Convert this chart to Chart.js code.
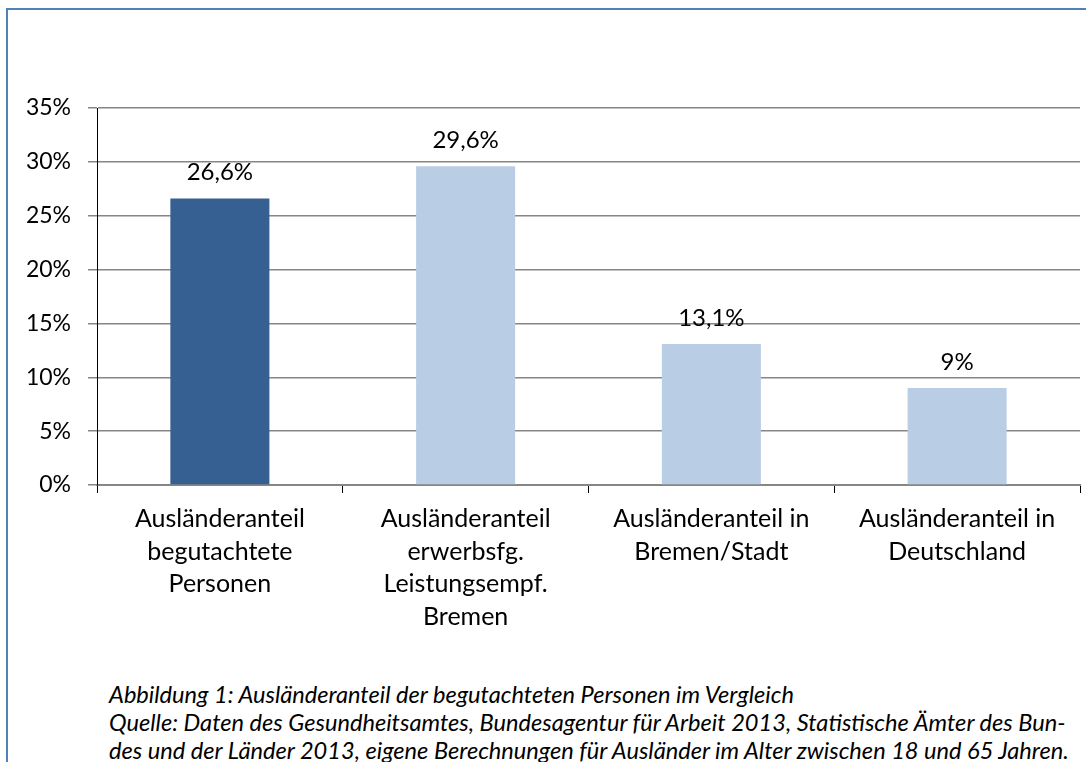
<!DOCTYPE html>
<html lang="de">
<head>
  <meta charset="UTF-8" />
  <title>Ausländeranteil</title>
  <style>
    html, body {
      margin: 0;
      padding: 0;
      background: #fff;
    }

    #page {
      position: relative;
      width: 1086px;
      height: 762px;
      overflow: hidden;
    }

    #frame {
      position: absolute;
      left: 6px;
      top: 8px;
      width: 1090px;
      height: 770px;
      border-left: 2px solid #4f81bd;
      border-top: 2px solid #4f81bd;
    }

    #chart-box {
      position: absolute;
      left: 0;
      top: 0;
      width: 1086px;
      height: 660px;
    }

    #caption {
      position: absolute;
      left: 109px;
      top: 680px;
      font-family: Lato, sans-serif;
      font-style: italic;
      font-size: 23.6px;
      line-height: 28px;
      color: #000;
      white-space: nowrap;
    }
  </style>
</head>
<body>
  <div id="page">
    <div id="frame"></div>
    <div id="chart-box">
      <canvas id="chart" width="1086" height="660"></canvas>
    </div>
    <div id="caption">
      Abbildung 1: Ausländeranteil der begutachteten Personen im Vergleich<br>
      Quelle: Daten des Gesundheitsamtes, Bundesagentur für Arbeit 2013, Statistische Ämter des Bun-<br>
      des und der Länder 2013, eigene Berechnungen für Ausländer im Alter zwischen 18 und 65 Jahren.
    </div>
  </div>

  <script src="https://cdn.jsdelivr.net/npm/chart.js"></script>
  <script>
    const categories = [
      ['Ausländeranteil', 'begutachtete', 'Personen'],
      ['Ausländeranteil', 'erwerbsfg.', 'Leistungsempf.', 'Bremen'],
      ['Ausländeranteil in', 'Bremen/Stadt'],
      ['Ausländeranteil in', 'Deutschland']
    ];
    const values = [26.6, 29.6, 13.1, 9];
    const valueLabels = ['26,6%', '29,6%', '13,1%', '9%'];
    const yTicks = [0, 5, 10, 15, 20, 25, 30, 35];

    const barColors = ['#366092', '#b9cde5', '#b9cde5', '#b9cde5'];
    const FONT = 'Lato, sans-serif';

    // value labels above bars
    const valueLabelPlugin = {
      id: 'valueLabels',
      afterDatasetsDraw(chart) {
        const ctx = chart.ctx;
        const meta = chart.getDatasetMeta(0);
        ctx.save();
        ctx.font = '24px ' + FONT;
        ctx.fillStyle = '#000';
        ctx.textAlign = 'center';
        ctx.textBaseline = 'middle';
        meta.data.forEach((bar, i) => {
          ctx.fillText(valueLabels[i], bar.x, bar.y - 26);
        });
        ctx.restore();
      }
    };

    new Chart(document.getElementById('chart'), {
      type: 'bar',
      data: {
        labels: categories,
        datasets: [{
          data: values,
          backgroundColor: barColors,
          borderWidth: 0,
          barPercentage: 0.403,
          categoryPercentage: 1
        }]
      },
      options: {
        responsive: false,
        animation: false,
        layout: {
          padding: { left: 0, top: 108, right: 6, bottom: 0 }
        },
        plugins: {
          legend: { display: false },
          tooltip: { enabled: false }
        },
        scales: {
          x: {
            grid: {
              display: true,
              drawOnChartArea: false,
              offset: true,
              tickLength: 8,
              color: '#000'
            },
            border: { color: '#868686', width: 2 },
            ticks: {
              color: '#000',
              font: { family: FONT, size: 25, lineHeight: 1.3 },
              padding: 10,
              maxRotation: 0,
              autoSkip: false
            },
            afterFit(scale) { scale.height = 175; }
          },
          y: {
            min: 0,
            max: 35,
            afterBuildTicks(scale) {
              scale.ticks = yTicks.map(v => ({ value: v }));
            },
            grid: {
              color: '#868686',
              lineWidth: 1.5,
              tickLength: 9
            },
            border: { color: '#000', width: 1 },
            ticks: {
              color: '#000',
              font: { family: FONT, size: 23 },
              padding: 17,
              callback: v => v + '%'
            },
            afterFit(scale) { scale.width = 97; }
          }
        }
      },
      plugins: [valueLabelPlugin]
    });
  </script>
</body>
</html>
